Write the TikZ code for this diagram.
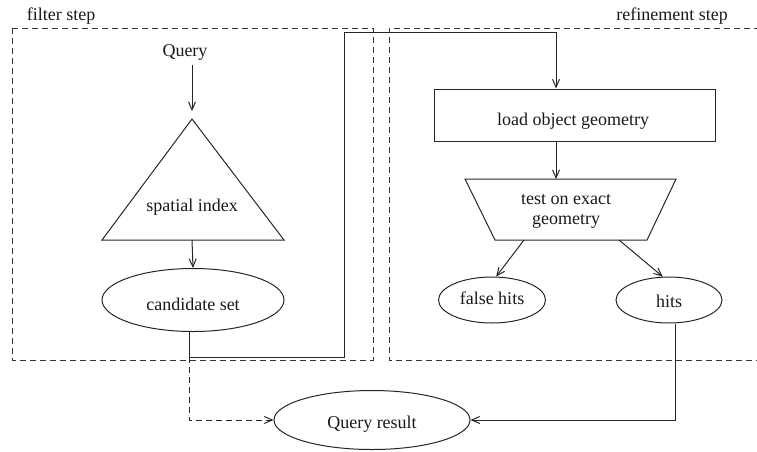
\documentclass[tikz,border=0pt]{standalone}
\usepackage{fontspec}
\setmainfont{Liberation Serif}
\newfontfamily\diagfont{Liberation Serif}
\usetikzlibrary{arrows.meta,shapes.geometric}
\begin{document}
\begin{tikzpicture}[x=1pt,y=-1pt,
  font=\diagfont\fontsize{18}{21}\selectfont,
  line/.style={draw=black!85, line width=1pt},
  arr/.style={line, -{Straight Barb[length=8pt,width=7pt,line width=1pt]}},
  dasharr/.style={arr, dash pattern=on 6pt off 4pt},
  region/.style={draw=black!80, line width=1pt, dash pattern=on 6pt off 4pt},
  oval/.style={ellipse, line, inner sep=0pt},
  txt/.style={inner sep=0pt, text=black!90}
]
\useasboundingbox (0,0) rectangle (757,451);

% the two processing regions
\draw[region] (12,28) rectangle (373,360);
\draw[region] (770,28) -- (389,28) -- (389,360) -- (770,360);
\node[txt] (lblfilter) at (61,16) {filter step};
\node[txt] (lblrefine) at (672,16) {refinement step};

% filter step
\node[txt] (q) at (185,52) {Query};
\draw[line] (192,119) -- (284,240) -- (102,240) -- cycle;
\coordinate (idxtop) at (192,119);
\coordinate (idxbot) at (192,240);
\node[txt] (idx) at (192,207) {spatial index};
\node[oval, minimum width=182pt, minimum height=63pt] (cand) at (193,300) {};
\node[txt] (candtxt) at (193,304) {candidate set};

\draw[arr, shorten <=5pt, shorten >=8pt] (q.south -| idxtop) -- (idxtop);
\draw[arr] (idxbot) -- (cand.north);

% refinement step
\node[line, rectangle, minimum width=281pt, minimum height=52pt, inner sep=0pt] (load) at (574.5,115) {};
\node[txt] (loadtxt) at (573,121) {load object geometry};
\draw[line] (465,179) -- (676,179) -- (647,240) -- (495,240) -- cycle;
\coordinate (testtop) at (556,179);
\coordinate (testfalse) at (524,240);
\coordinate (testhits) at (619,240);
\node[txt, align=center] (test) at (566,211) {test on exact\\[-1pt]geometry};
\node[oval, minimum width=107pt, minimum height=46pt] (fh) at (492,300) {};
\node[txt] (fhtxt) at (492,298) {false hits};
\node[oval, minimum width=106pt, minimum height=46pt] (hits) at (669,300) {};
\node[txt] (hitstxt) at (669,301) {hits};

\draw[arr] (load.south -| testtop) -- (testtop);
\draw[arr] (testfalse) -- (fh.80);
\draw[arr] (testhits) -- (hits.105);

% candidates are passed on to the refinement step
\coordinate (b0) at (189,357);
\coordinate (b1) at (344,357);
\coordinate (b2) at (344,32);
\coordinate (b3) at (556,32);
\draw[arr] (cand.south -| b0) -- (b0) -- (b1) -- (b2) -- (b3) -- (load.north -| b3);

% result
\node[oval, minimum width=196pt, minimum height=59pt] (res) at (372,420) {};
\node[txt] (restxt) at (372,424) {Query result};
\draw[dasharr] (b0) |- (res.west);
\draw[arr] ([xshift=6pt]hits.south) |- (res.east);
\end{tikzpicture}
\end{document}
